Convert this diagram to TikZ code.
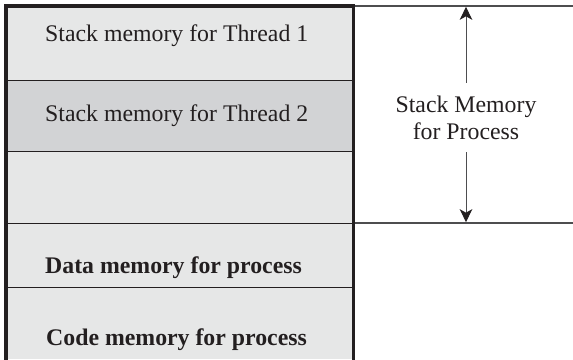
\documentclass[tikz,border=0pt]{standalone}
\usepackage{fontspec}
\setmainfont{Liberation Serif}
\usetikzlibrary{arrows.meta}
\definecolor{ink}{HTML}{231F20}
\definecolor{cellA}{HTML}{E6E7E7}
\definecolor{cellB}{HTML}{D2D3D5}
\definecolor{guide}{HTML}{4D4D4F}
\tikzset{
  x=1pt, y=-1pt,
  cell/.style={draw=ink, line width=1pt, fill=cellA},
  celltext/.style={anchor=base west, inner sep=0pt, text=ink, font=\fontsize{23.8}{27}\selectfont},
  guideline/.style={draw=guide, line width=1.3pt},
  measure/.style={draw=guide, line width=1pt, -{Stealth[length=13pt,width=12.5pt,inset=3.5pt,color=ink]}},
}
\begin{document}
\begin{tikzpicture}
\useasboundingbox (0,0) rectangle (573,359);
% memory segments (bottom one first so the dividers stay on top)
\path[cell, draw=none] (6,287) rectangle (353.5,359);
\path[cell] (6,6) rectangle (353.5,80);
\path[cell, fill=cellB] (6,80) rectangle (353.5,151);
\path[cell] (6,151) rectangle (353.5,223);
\path[cell] (6,223) rectangle (353.5,287);
% outer frame (open at the bottom)
\draw[ink, line width=3.2pt] (6,360) -- (6,6) -- (353.5,6) -- (353.5,360);
% labels
\node[celltext] (t1) at (45,41) {Stack memory for Thread 1};
\node[celltext] (t2) at (45,121) {Stack memory for Thread 2};
\node[celltext, font=\fontsize{23.8}{27}\selectfont\bfseries] (t3) at (45,273) {Data memory for process};
\node[celltext, font=\fontsize{23.8}{27}\selectfont\bfseries] (t4) at (46,345) {Code memory for process};
% stack extent guides
\coordinate (gtop) at (466,6);
\coordinate (gbot) at (466,223);
\draw[guideline] (355,6) -- (573,6);
\draw[guideline] (355,223) -- (573,223);
\node[align=center, text=ink, font=\fontsize{23.8}{27}\selectfont, inner xsep=0pt, minimum height=69pt] (lbl) at (466,117.5) {Stack Memory\\for Process};
\draw[measure] (lbl.north) -- ([yshift=-0.8pt]gtop);
\draw[measure] (lbl.south) -- ([yshift=0.8pt]gbot);
\end{tikzpicture}
\end{document}
